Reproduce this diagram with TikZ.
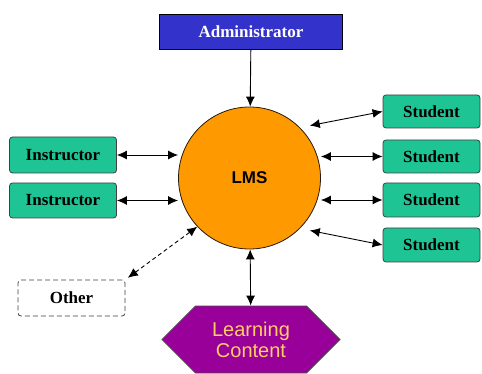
\documentclass[tikz,border=0pt]{standalone}
\usepackage{fontspec}
\setmainfont{Liberation Serif}
\newfontfamily\arialfont{Liberation Sans}
\usetikzlibrary{arrows.meta,shapes.symbols}
\definecolor{adminblue}{RGB}{51,51,204}
\definecolor{actorgreen}{RGB}{30,196,148}
\definecolor{lmsorange}{RGB}{255,153,0}
\definecolor{contentpurple}{RGB}{153,0,153}
\definecolor{contentyellow}{RGB}{255,204,102}
\tikzset{
  actor/.style={draw=black!75, line width=0.8pt, fill=actorgreen, rounded corners=3pt,
    font=\fontsize{17}{19}\selectfont\bfseries, inner sep=0pt},
  link/.style={line width=0.9pt, {Latex[length=10pt,width=9pt]}-{Latex[length=10pt,width=9pt]}}
}
\begin{document}
\begin{tikzpicture}[x=1pt,y=-1pt]
\useasboundingbox (0,0) rectangle (482,374);
\node[draw=black, line width=0.8pt, fill=adminblue, text=white, inner sep=0pt,
  minimum width=183pt, minimum height=35pt, font=\fontsize{17}{19}\selectfont\bfseries]
  (admin) at (251,32) {Administrator};
\node[circle, draw=black!80!brown, line width=0.8pt, fill=lmsorange, minimum size=142pt,
  font=\arialfont\fontsize{17}{19}\selectfont\bfseries] (lms) at (249.5,178) {LMS};
\node[actor, minimum width=107pt, minimum height=36pt] (instr1) at (63,155) {Instructor};
\node[actor, minimum width=107pt, minimum height=35pt] (instr2) at (63,200.5) {Instructor};
\node[actor, minimum width=97pt, minimum height=33pt] (stud1) at (431.5,111.5) {Student};
\node[actor, minimum width=97pt, minimum height=33pt] (stud2) at (431.5,156.5) {Student};
\node[actor, minimum width=97pt, minimum height=34pt] (stud3) at (431.5,200) {Student};
\node[actor, minimum width=97pt, minimum height=34pt] (stud4) at (431.5,245) {Student};
\node[actor, fill=white, dash pattern=on 5pt off 3pt, minimum width=107pt, minimum height=36pt]
  (other) at (71.5,298) {Other};
\node[signal, signal to=east and west, draw=black!70, line width=0.8pt, fill=contentpurple,
  text=contentyellow, align=center, inner sep=0pt, minimum width=178pt, minimum height=67pt,
  font=\arialfont\fontsize{20}{21}\selectfont] (content) at (251,339.5) {Learning\\Content};
\draw[line width=0.9pt, -{Latex[length=10pt,width=9pt]}] (admin) -- (lms);
\draw[link] (instr1.east) -- (instr1.east -| lms.west);
\draw[link] (instr2.east) -- (instr2.east -| lms.west);
\draw[link, shorten >=10pt] (stud1.west) -- (lms.45);
\draw[link] (stud2.west) -- (stud2.west -| lms.east);
\draw[link] (stud3.west) -- (stud3.west -| lms.east);
\draw[link, shorten >=10pt] (stud4.west) -- (lms.-45);
\draw[link, dash pattern=on 4pt off 3pt, shorten <=3pt] (other.north east) -- (lms.223);
\draw[link] (lms) -- (content);
\end{tikzpicture}
\end{document}
